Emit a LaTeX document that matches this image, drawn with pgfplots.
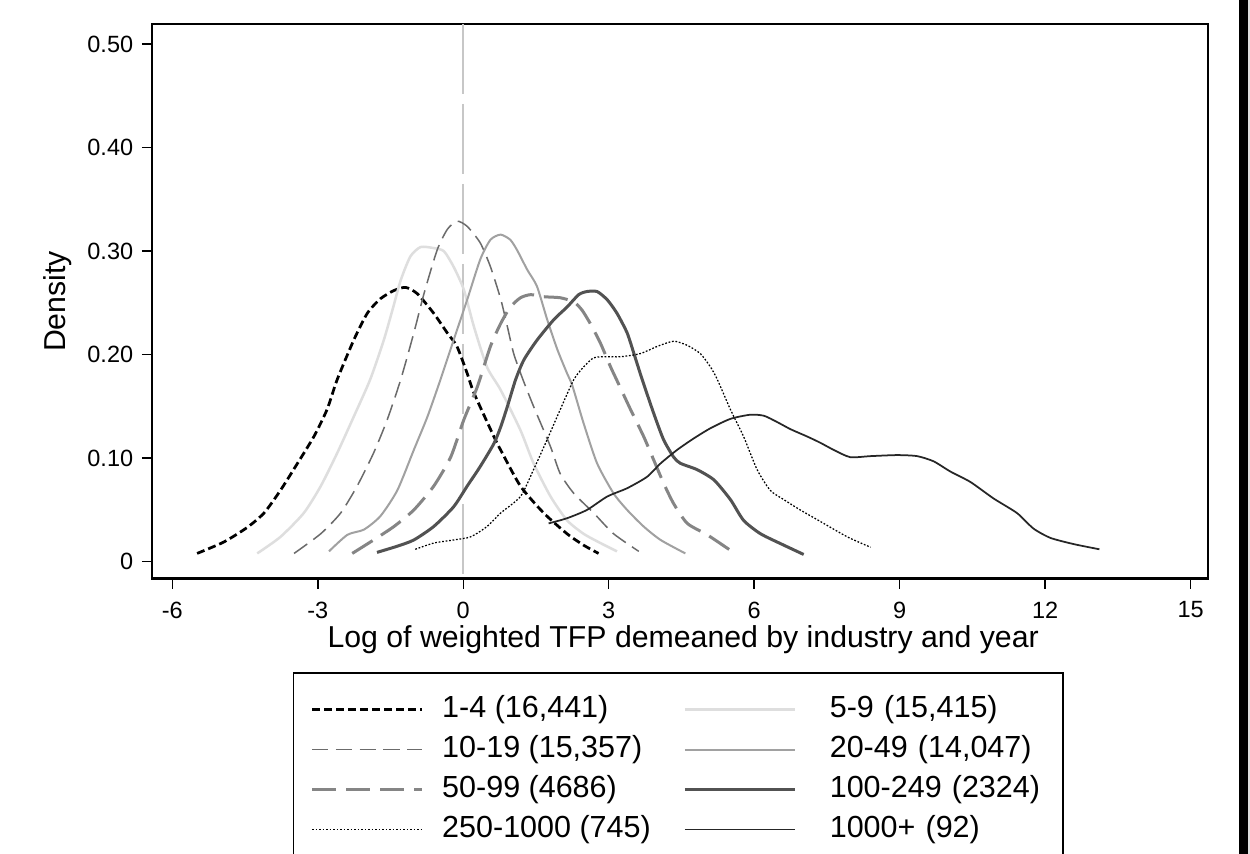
\documentclass[border=0pt]{standalone}
\usepackage{pgfplots}
\pgfplotsset{compat=1.18}
\usepackage{fontspec}
\setmainfont{Liberation Sans}

\pgfplotstableread{
x y
-5.49 0.008
-4.94 0.019
-4.46 0.033
-4.11 0.047
-3.77 0.069
-3.42 0.095
-3.08 0.121
-2.81 0.147
-2.60 0.176
-2.26 0.214
-1.98 0.240
-1.71 0.254
-1.43 0.262
-1.19 0.265
-0.95 0.259
-0.61 0.240
-0.33 0.221
-0.13 0.208
0.08 0.182
0.22 0.163
0.63 0.121
0.77 0.108
1.18 0.073
1.66 0.047
2.14 0.027
2.48 0.016
2.79 0.008
}\dA
\pgfplotstableread{
x y
-4.25 0.008
-3.77 0.024
-3.29 0.047
-2.94 0.073
-2.60 0.105
-2.26 0.140
-1.92 0.176
-1.64 0.214
-1.45 0.245
-1.29 0.272
-1.09 0.295
-0.88 0.304
-0.61 0.303
-0.40 0.300
-0.20 0.285
0.01 0.263
0.22 0.227
0.49 0.188
0.77 0.166
1.18 0.127
1.45 0.095
1.80 0.063
2.14 0.040
2.48 0.027
2.83 0.018
3.17 0.010
}\dB
\pgfplotstableread{
x y
-3.49 0.008
-2.94 0.027
-2.53 0.047
-2.19 0.073
-1.85 0.105
-1.57 0.137
-1.29 0.176
-1.02 0.221
-0.81 0.259
-0.54 0.301
-0.33 0.321
-0.13 0.329
0.08 0.324
0.35 0.308
0.56 0.285
0.77 0.254
0.91 0.227
1.04 0.201
1.23 0.176
1.45 0.150
1.80 0.111
2.00 0.085
2.28 0.066
2.69 0.047
3.10 0.027
3.62 0.010
}\dC
\pgfplotstableread{
x y
-2.77 0.010
-2.39 0.026
-2.05 0.031
-1.71 0.044
-1.36 0.069
-1.02 0.108
-0.74 0.140
-0.47 0.176
-0.20 0.214
0.08 0.253
0.35 0.292
0.56 0.311
0.77 0.316
0.97 0.311
1.11 0.301
1.32 0.282
1.52 0.266
1.73 0.234
1.94 0.205
2.14 0.182
2.25 0.170
2.48 0.134
2.76 0.095
3.10 0.066
3.38 0.050
3.72 0.034
4.07 0.021
4.58 0.008
}\dD
\pgfplotstableread{
x y
-2.29 0.008
-1.85 0.021
-1.43 0.034
-1.02 0.050
-0.61 0.073
-0.26 0.101
0.01 0.137
0.29 0.169
0.56 0.208
0.77 0.230
0.97 0.246
1.18 0.255
1.39 0.258
1.66 0.256
2.00 0.255
2.28 0.251
2.45 0.243
2.62 0.230
2.83 0.211
3.04 0.188
3.16 0.176
3.45 0.147
3.72 0.121
3.93 0.098
4.13 0.076
4.34 0.056
4.62 0.037
5.03 0.026
5.51 0.011
}\dE
\pgfplotstableread{
x y
-1.78 0.009
-1.36 0.015
-1.02 0.021
-0.61 0.034
-0.20 0.053
0.08 0.073
0.35 0.092
0.63 0.114
0.77 0.130
0.91 0.150
1.08 0.176
1.25 0.195
1.52 0.214
1.87 0.234
2.14 0.246
2.38 0.258
2.55 0.261
2.76 0.261
2.97 0.253
3.17 0.240
3.38 0.221
3.52 0.201
3.69 0.176
3.93 0.143
4.13 0.118
4.34 0.101
4.48 0.095
4.82 0.089
5.17 0.079
5.51 0.060
5.78 0.040
6.13 0.027
6.61 0.016
7.02 0.007
}\dF
\pgfplotstableread{
x y
-0.99 0.012
-0.61 0.018
-0.20 0.021
0.15 0.024
0.49 0.034
0.77 0.047
1.18 0.063
1.45 0.089
1.73 0.118
2.00 0.147
2.28 0.176
2.48 0.188
2.69 0.197
2.97 0.198
3.24 0.198
3.65 0.201
4.00 0.208
4.34 0.213
4.62 0.209
4.89 0.201
5.10 0.188
5.24 0.176
5.51 0.147
5.78 0.121
6.06 0.089
6.33 0.069
6.61 0.060
6.95 0.050
7.36 0.039
7.92 0.024
8.40 0.014
}\dG
\pgfplotstableread{
x y
1.76 0.037
2.14 0.042
2.55 0.050
2.97 0.063
3.38 0.071
3.79 0.082
4.07 0.095
4.41 0.108
4.75 0.119
5.10 0.129
5.51 0.138
5.92 0.142
6.20 0.141
6.47 0.135
6.75 0.128
7.09 0.121
7.36 0.115
7.64 0.108
7.98 0.101
8.40 0.102
8.95 0.103
9.36 0.102
9.70 0.097
10.05 0.087
10.46 0.077
10.94 0.061
11.42 0.047
11.76 0.032
12.11 0.023
12.59 0.017
13.12 0.012
}\dH

\begin{document}
\begin{tikzpicture}
\useasboundingbox (0,0) rectangle (500pt,341.6pt);
\clip (0,0) rectangle (500pt,341.6pt);
\fill[white] (0,0) rectangle (500pt,341.6pt);
\fill[black] (495.6pt,0) rectangle (499pt,341.6pt);
\fill[gray!25] (499pt,0) rectangle (500pt,341.6pt);
\begin{axis}[
  at={(60.8pt,110pt)}, anchor=south west,
  scale only axis, width=422.4pt, height=222pt,
  xmin=-6.42, xmax=15.36, ymin=-0.0167, ymax=0.5195,
  xtick={-6,-3,0,3,6,9,12,15},
  ytick={0,0.1,0.2,0.3,0.4,0.5},
  yticklabels={0,0.10,0.20,0.30,0.40,0.50},
  tick align=outside, tick pos=left,
  major tick length=4pt,
  every tick/.style={black, line width=0.6pt},
  axis line style={black, line width=0.6pt},
  ticklabel style={font=\fontsize{9.4}{11}\selectfont},
  xticklabel style={yshift=-1.6pt},
  /pgf/number format/assume math mode=true,
  xlabel={Log of weighted TFP demeaned by industry and year},
  ylabel={Density},
  label style={font=\fontsize{12.1}{14}\selectfont},
  xlabel style={at={(axis description cs:0.503,-0.1243)}, anchor=base},
  ylabel style={at={(axis description cs:-0.089,0.5)}, anchor=center},
  legend columns=2,
  legend cell align=left,
  legend image code/.code={\draw[#1] (0pt,0pt) -- (44pt,0pt);},
  legend style={at={(axis description cs:0.1335,-0.1676)}, anchor=north west,
    draw=black, line width=0.6pt, inner xsep=6.8pt, inner ysep=8.7pt,
    font=\fontsize{12.2}{14}\selectfont, row sep=4pt,
    nodes={inner sep=0pt, text height=9pt, text depth=3pt},
    /tikz/column 1/.append style={column sep=7.4pt},
    /tikz/column 2/.append style={column sep=13pt},
    /tikz/column 3/.append style={column sep=13.4pt},
    /tikz/column 4/.append style={nodes={text width=86.5pt}}},
]
\draw[color=black!22, line width=0.8pt, dash pattern=on 28pt off 4pt] (axis cs:0,0.5195) -- (axis cs:0,-0.0167);
\addplot[smooth, tension=0.4, black, line width=1.1pt, dash pattern=on 3.2pt off 1.6pt] table {\dA};
\addlegendentry{1-4 (16,441)}
\addplot[smooth, tension=0.4, black!13, line width=1pt] table {\dB};
\addlegendentry{5-9 (15,415)}
\addplot[smooth, tension=0.4, black!58, line width=0.6pt, dash pattern=on 6.5pt off 3pt] table {\dC};
\addlegendentry{10-19 (15,357)}
\addplot[smooth, tension=0.4, black!37, line width=0.8pt] table {\dD};
\addlegendentry{20-49 (14,047)}
\addplot[smooth, tension=0.4, black!48, line width=1.2pt, dash pattern=on 9.6pt off 4pt] table {\dE};
\addlegendentry{50-99 (4686)}
\addplot[smooth, tension=0.4, black!68, line width=1.2pt] table {\dF};
\addlegendentry{100-249 (2324)}
\addplot[smooth, tension=0.4, black, line width=0.5pt, dash pattern=on 0.7pt off 0.7pt] table {\dG};
\addlegendentry{250-1000 (745)}
\addplot[smooth, tension=0.4, black!85, line width=0.7pt] table {\dH};
\addlegendentry{1000+ (92)}
\draw[black, line width=1.2pt] (rel axis cs:0,0) -- (rel axis cs:1.002,0);
\end{axis}
\end{tikzpicture}
\end{document}
